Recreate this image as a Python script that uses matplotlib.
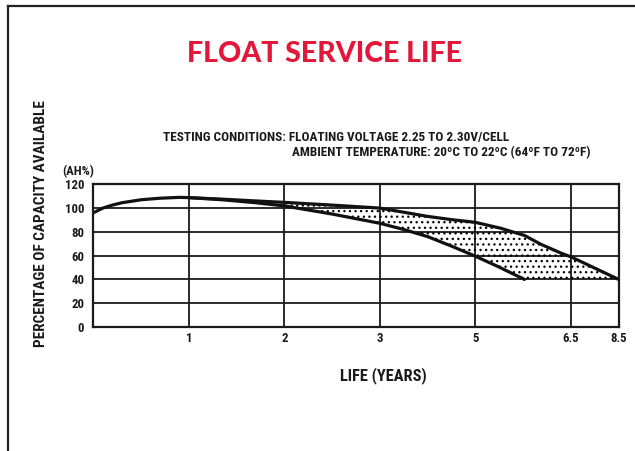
import numpy as np
import matplotlib
matplotlib.use("Agg")
import matplotlib.pyplot as plt
from matplotlib import font_manager as fm
from matplotlib.font_manager import FontProperties
from matplotlib.lines import Line2D

# ---------------- data ----------------
x_tick_years = [1, 2, 3, 5, 6.5, 8.5]
x_tick_labels = ["1", "2", "3", "5", "6.5", "8.5"]
y_ticks = [0, 20, 40, 60, 80, 100, 120]
y_tick_labels = ["0", "20", "40", "60", "80", "100", "120"]

# longer-life boundary of the band
upper_years = [0, 0.1, 0.2, 0.3, 0.5, 0.7, 0.9, 1.0, 1.35, 1.7, 2.0, 2.5, 3.0,
               3.5, 4.0, 4.5, 5.0, 5.4, 5.77, 6.03, 6.35, 6.5, 7.5, 8.5]
upper_capacity = [96, 100, 102.5, 104.5, 107, 108.3, 109, 108.8, 107.5, 106,
                  104.8, 102.5, 100, 96.5, 93, 90.3, 88, 83, 77, 69.5, 62,
                  59, 49.5, 40]
# shorter-life boundary of the band
lower_years = [1.0, 1.35, 1.7, 2.0, 2.5, 3.0, 3.5, 4.0, 4.5, 5.0, 5.36, 5.77]
lower_capacity = [108.8, 107, 104.5, 101.8, 95, 87.2, 82, 76, 68, 59.5, 50.7, 40]
end_of_life_capacity = 40

title_text = "FLOAT SERVICE LIFE"
cond_line1 = "TESTING CONDITIONS: FLOATING VOLTAGE 2.25 TO 2.30V/CELL"
cond_line2 = "AMBIENT TEMPERATURE: 20ºC TO 22ºC (64ºF TO 72ºF)"
y_label = "PERCENTAGE OF CAPACITY AVAILABLE"
y_unit = "(AH%)"
x_label = "LIFE (YEARS)"

# ---------------- fonts ----------------
def pick_condensed_bold():
    prefs = ["Liberation Sans Narrow", "Roboto Condensed", "DejaVu Sans Condensed",
             "Noto Sans Condensed", "Open Sans Condensed", "Noto Sans", "DejaVu Sans",
             "Open Sans", "Roboto"]
    best = None
    for f in fm.fontManager.ttflist:
        name = f.name
        stretch = str(f.stretch).lower()
        fname = f.fname.lower()
        is_cond = ("condensed" in stretch or "narrow" in name.lower()
                   or "condensed" in name.lower() or "condensed" in fname
                   or "narrow" in fname)
        if not is_cond or "semi" in stretch or "semi" in fname or "extra" in fname or "ultra" in fname:
            continue
        w = f.weight if isinstance(f.weight, int) else fm.weight_dict.get(f.weight, 400)
        if not (600 <= w <= 800) or f.style != "normal":
            continue
        rank = prefs.index(name) if name in prefs else 50
        if best is None or rank < best[0]:
            best = (rank, f.fname)
    return best[1] if best else None

cond_path = pick_condensed_bold()

def cfont(size):
    if cond_path:
        return FontProperties(fname=cond_path, size=size)
    return FontProperties(family="DejaVu Sans", weight="bold", stretch="condensed", size=size)

title_font = FontProperties(family=["Lato Black", "Lato Heavy", "Lato", "Liberation Sans"],
                            weight="black", size=20.5)

plt.rcParams["hatch.linewidth"] = 0.9
plt.rcParams["hatch.color"] = "black"

# ---------------- figure ----------------
W, H = 635, 451
fig = plt.figure(figsize=(W / 100, H / 100), dpi=100)
fig.patch.set_facecolor("white")

ax = fig.add_axes([93.3 / W, 1 - 327 / H, (618.7 - 93.3) / W, (327 - 184.3) / H])

scale_years = [0] + x_tick_years
scale_pos = [0, 1, 2, 3, 4, 5, 5.5]
fwd = lambda x: np.interp(x, scale_years, scale_pos)
inv = lambda p: np.interp(p, scale_pos, scale_years)
ax.set_xscale("function", functions=(fwd, inv))
ax.set_xlim(0, 8.5)
ax.set_ylim(0, 120)

ax.set_xticks(x_tick_years)
ax.set_xticklabels(x_tick_labels)
ax.set_yticks(y_ticks)
ax.set_yticklabels(y_tick_labels)
ax.minorticks_off()
ax.tick_params(length=0)
ax.tick_params(axis="y", pad=6.5)
ax.tick_params(axis="x", pad=3.5)
for lab in ax.get_xticklabels() + ax.get_yticklabels():
    lab.set_fontproperties(cfont(9.2))
    lab.set_color("#1a1a1a")

ax.grid(True, color="#1a1a1a", linewidth=1.3)
ax.set_axisbelow(True)
for sp in ax.spines.values():
    sp.set_linewidth(1.6)
    sp.set_color("#1a1a1a")

# shaded band
i0 = upper_years.index(1.0)
band_x = upper_years[i0:] + [lower_years[-1]] + lower_years[::-1]
band_y = upper_capacity[i0:] + [end_of_life_capacity] + lower_capacity[::-1]
ax.fill(band_x, band_y, facecolor="none", edgecolor="black", hatch="...", linewidth=0)

ax.plot(upper_years, upper_capacity, color="#111111", lw=2.3, solid_capstyle="round")
ax.plot(lower_years, lower_capacity, color="#111111", lw=2.3, solid_capstyle="round")

# ---------------- texts ----------------
fig.text(324 / W, 1 - 54 / H, title_text, color="#e3173a", fontproperties=title_font,
         ha="center", va="center")
fig.text(163 / W, 1 - 137 / H, cond_line1, fontproperties=cfont(9.5), color="#1a1a1a",
         ha="left", va="center")
fig.text(292 / W, 1 - 153 / H, cond_line2, fontproperties=cfont(9.5), color="#1a1a1a",
         ha="left", va="center")
fig.text(41 / W, 1 - 224 / H, y_label, fontproperties=cfont(11), rotation=90,
         color="#1a1a1a", ha="center", va="center")
fig.text(62 / W, 1 - 172 / H, y_unit, fontproperties=cfont(9.2), color="#1a1a1a",
         ha="left", va="center")
fig.text(383.5 / W, 1 - 376 / H, x_label, fontproperties=cfont(11.8), color="#1a1a1a",
         ha="center", va="center")

# page border (top and left)
fig.add_artist(Line2D([8 / W, 1], [1 - 6 / H, 1 - 6 / H], transform=fig.transFigure,
                      color="#222222", lw=1.6))
fig.add_artist(Line2D([8 / W, 8 / W], [0, 1 - 6 / H], transform=fig.transFigure,
                      color="#222222", lw=1.6))

fig.savefig("out.png", dpi=100, facecolor="white")
